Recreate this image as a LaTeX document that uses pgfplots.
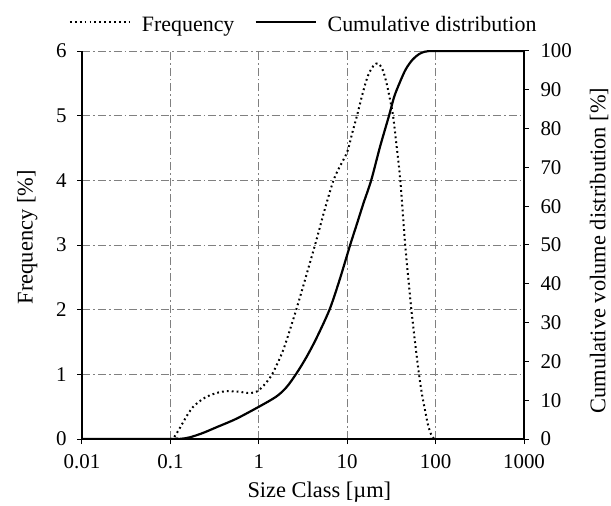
\documentclass[border=0pt]{standalone}
\usepackage{fontspec}
\setmainfont{Liberation Serif}
\usepackage{pgfplots}
\pgfplotsset{compat=1.18}
\newcommand\tfont{\fontsize{21}{23}\selectfont}
\newcommand\lfont{\fontsize{22.5}{25}\selectfont}
\newcommand\gfont{\fontsize{22}{24}\selectfont}
\begin{document}
\begin{tikzpicture}
\useasboundingbox (-82bp,-67bp) rectangle (529bp,439bp);
\begin{axis}[
  at={(0,0)}, anchor=south west,
  width=442bp, height=388bp, scale only axis,
  xmode=log, xmin=0.01, xmax=1000,
  xminorticks=false,
  tick align=outside, major tick length=5bp,
  tick style={black, line width=1bp},
  axis line style={black, line width=1.3bp},
  /pgf/number format/assume math mode=true,
  tick label style={font=\tfont},
  xticklabel style={yshift=-7bp},
  yticklabel style={xshift=-7bp},
  label style={font=\lfont},
  ylabel style={at={(axis description cs:-0.124,0.52)}, anchor=center},
  xlabel style={at={(axis description cs:0.537,-0.150)}, anchor=base},
  axis x line*=bottom, axis y line*=left,
  ymin=0, ymax=6, ytick={0,1,...,6},
  xtick={0.01,0.1,1,10,100,1000},
  xticklabels={0.01,0.1,1,10,100,1000},
  xmajorgrids, ymajorgrids,
  grid style={gray, line width=1bp, dash pattern=on 8bp off 3bp on 1.8bp off 3bp},
  xlabel={Size Class [µm]},
  ylabel={Frequency [\%]},
  legend columns=2,
  legend style={draw=none, fill=none, at={(-0.03,1.046)}, anchor=south west,
    inner sep=0pt, font=\gfont, nodes={inner sep=0pt},
    /tikz/every odd column/.append style={column sep=11bp},
    /tikz/every even column/.append style={column sep=20bp}},
  legend image code/.code={\draw[#1] (0bp,0.3em) -- (60bp,0.3em);},
]
\addplot[black, line width=2bp, dash pattern=on 1.8bp off 3.1bp, smooth, tension=0.5] coordinates {
(0.01,0) (0.1,0) (0.11,0.03) (0.123,0.13) (0.138,0.25) (0.157,0.38) (0.179,0.49)
(0.212,0.58) (0.254,0.65) (0.33,0.71) (0.427,0.74) (0.60,0.73) (0.785,0.71)
(0.97,0.74) (1.21,0.87) (1.44,1.02) (1.87,1.36) (2.35,1.77) (2.89,2.17) (3.6,2.62)
(4.47,3.07) (5.6,3.56) (7.0,4.0) (8.3,4.22) (10,4.44) (11.5,4.75) (12.9,5.0)
(15.2,5.38) (17.2,5.62) (19.8,5.77) (22.3,5.81) (25,5.72) (27.7,5.52) (30.3,5.27)
(33,5.0) (36.3,4.52) (39.9,4.0) (45,3.05) (49,2.5) (53.2,2.0) (58.5,1.5) (64.9,1.0)
(70,0.7) (75.3,0.47) (82,0.22) (89,0.07) (95,0.01) (100,0) (1000,0)
};
\addlegendentry{Frequency}
\addlegendimage{black, line width=2.2bp}
\addlegendentry{Cumulative distribution}
\end{axis}
\begin{axis}[
  at={(0,0)}, anchor=south west,
  width=442bp, height=388bp, scale only axis,
  xmode=log, xmin=0.01, xmax=1000,
  xminorticks=false,
  tick align=outside, major tick length=5bp,
  tick style={black, line width=1bp},
  axis line style={black, line width=1.3bp},
  /pgf/number format/assume math mode=true,
  tick label style={font=\tfont},
  yticklabel style={xshift=8bp},
  label style={font=\lfont},
  ylabel style={at={(axis description cs:1.17,0.486)}, anchor=center},
  axis x line=none, axis y line*=right,
  ymin=0, ymax=100, ytick={0,10,...,100},
  ylabel={Cumulative volume distribution [\%]},
]
\addplot[black, line width=2.2bp, smooth, tension=0.5] coordinates {
(0.01,0) (0.1,0) (0.13,0.05) (0.164,0.4) (0.23,1.5) (0.33,3.0) (0.555,5.2) (1,8.3)
(1.57,10.9) (2.05,13.3) (2.65,16.8) (3.44,21.0) (4.47,25.9) (6.3,33.3) (8.2,41)
(10.8,50) (12.7,55) (15.3,60.8) (18.7,66.7) (23.5,75.3) (29.7,83.3) (34,88.2)
(39.2,91.8) (46,95.3) (55,97.8) (65,99.2) (75,99.8) (85,100) (100,100) (1000,100)
};
\end{axis}
\end{tikzpicture}
\end{document}
